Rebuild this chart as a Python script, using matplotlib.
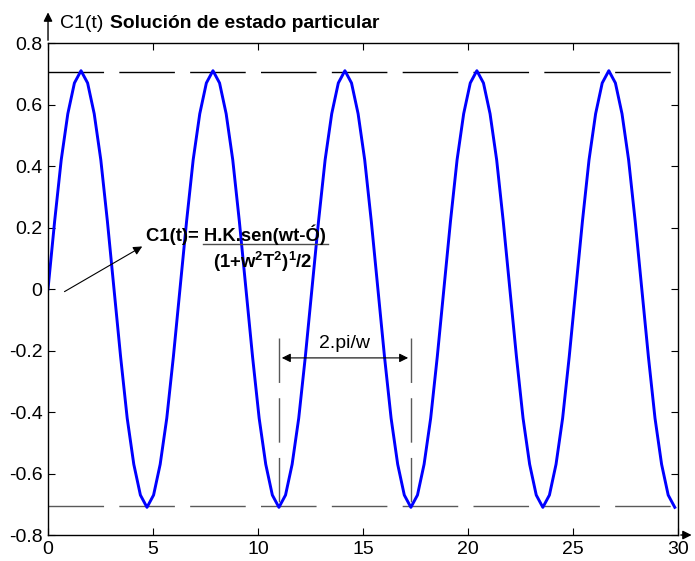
import numpy as np
import matplotlib
matplotlib.use('Agg')
import matplotlib.pyplot as plt

plt.rcParams['font.family'] = ['Liberation Sans', 'DejaVu Sans']
plt.rcParams['mathtext.fontset'] = 'custom'
plt.rcParams['mathtext.rm'] = 'Liberation Sans'
plt.rcParams['mathtext.bf'] = 'Liberation Sans:bold'

# sampled response C1(t), step pi/10
t_step = np.pi / 10
c1 = [0, 0.22, 0.42, 0.57, 0.67, 0.71, 0.67, 0.57, 0.42, 0.22,
      0, -0.22, -0.42, -0.57, -0.67, -0.71, -0.67, -0.57, -0.42, -0.22,
      0, 0.22, 0.42, 0.57, 0.67, 0.71, 0.67, 0.57, 0.42, 0.22,
      0, -0.22, -0.42, -0.57, -0.67, -0.71, -0.67, -0.57, -0.42, -0.22,
      0, 0.22, 0.42, 0.57, 0.67, 0.71, 0.67, 0.57, 0.42, 0.22,
      0, -0.22, -0.42, -0.57, -0.67, -0.71, -0.67, -0.57, -0.42, -0.22,
      0, 0.22, 0.42, 0.57, 0.67, 0.71, 0.67, 0.57, 0.42, 0.22,
      0, -0.22, -0.42, -0.57, -0.67, -0.71, -0.67, -0.57, -0.42, -0.22,
      0, 0.22, 0.42, 0.57, 0.67, 0.71, 0.67, 0.57, 0.42, 0.22,
      0, -0.22, -0.42, -0.57, -0.67, -0.71]
t = np.arange(len(c1)) * t_step

amplitude = 0.707
period_marks = [11.0, 17.28]

fig = plt.figure(figsize=(6.95, 5.61), dpi=100)
ax = fig.add_axes([0.0691, 0.0463, 0.9065, 0.877])

ax.plot([0, 30], [amplitude, amplitude], color='black', lw=1, dashes=(40, 11))
ax.plot([0, 30], [-amplitude, -amplitude], color='0.35', lw=1, dashes=(40, 11))
for xm in period_marks:
    ax.plot([xm, xm], [-0.16, -amplitude], color='0.35', lw=1, dashes=(32, 11))

ax.plot(t, c1, color='#0000ff', lw=2.1)

ax.set_xlim(0, 30)
ax.set_ylim(-0.8, 0.8)
ax.set_xticks([0, 5, 10, 15, 20, 25, 30])
ax.set_yticks([-0.8, -0.6, -0.4, -0.2, 0, 0.2, 0.4, 0.6, 0.8])
ax.set_yticklabels(['-0.8', '-0.6', '-0.4', '-0.2', '0', '0.2', '0.4', '0.6', '0.8'])
ax.tick_params(direction='in', length=5, top=True, right=True, labelsize=14, width=0.8, pad=4)
for s in ax.spines.values():
    s.set_linewidth(1)

# axis arrows
ax.annotate('', xy=(0, 1.068), xytext=(0, 1.0), xycoords='axes fraction',
            arrowprops=dict(arrowstyle='-|>', color='black', lw=1, mutation_scale=13))
ax.annotate('', xy=(1.026, 0), xytext=(1.0, 0), xycoords='axes fraction',
            arrowprops=dict(arrowstyle='-|>', color='black', lw=1, mutation_scale=13))

# title
fig.text(0.086, 0.958, 'C1(t)', fontsize=14, va='center')
fig.text(0.158, 0.958, 'Solución de estado particular', fontsize=13.9, fontweight='bold', va='center')

# formula
ax.text(4.67, 0.176, 'C1(t)= H.K.sen(wt-Ó)', fontsize=13.3, fontweight='bold', va='center')
ax.plot([7.4, 13.33], [0.146, 0.146], color='0.3', lw=1)
ax.text(7.85, 0.088, r'$\mathbf{(1{+}w^2T^2)^1/2}$', fontsize=13.3, va='center')
ax.annotate('', xy=(4.6, 0.143), xytext=(0.67, -0.013),
            arrowprops=dict(arrowstyle='-|>', color='black', lw=0.8, mutation_scale=13))

# period marker
ax.annotate('', xy=(period_marks[0], -0.224), xytext=(period_marks[1], -0.224),
            arrowprops=dict(arrowstyle='<|-|>', color='black', lw=0.8, mutation_scale=13))
ax.text(14.14, -0.176, '2.pi/w', fontsize=14, ha='center', va='center')

fig.savefig('out.png', dpi=100)
